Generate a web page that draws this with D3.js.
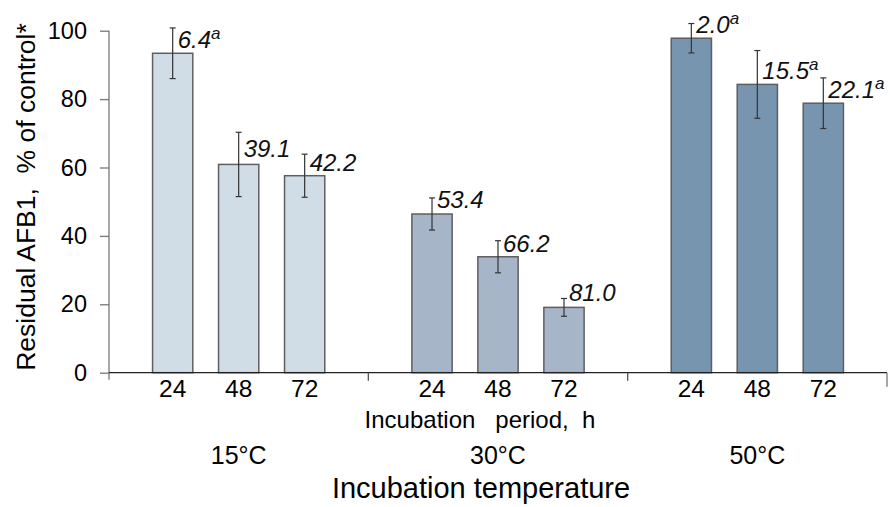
<!DOCTYPE html>
<html>
<head>
<meta charset="utf-8">
<script src="https://cdn.jsdelivr.net/npm/d3@7"></script>
<style>
  body { margin: 0; background: #fff; }
  svg { display: block; font-family: Arial, "Liberation Sans", sans-serif; }
  text { white-space: pre; }
</style>
</head>
<body>
<div id="plot"></div>
<script>
// ---------------- data ----------------
const temps = ["15°C", "30°C", "50°C"];
const hours = ["24", "48", "72"];

// residual AFB1 (% of control) per temperature, 24/48/72 h
const residual15 = [93.4, 60.9, 57.6];
const residual30 = [46.4, 33.9, 19.1];
const residual50 = [97.8, 84.3, 78.8];

// error bar half-lengths
const err15 = [7.4, 9.4, 6.3];
const err30 = [4.7, 4.7, 2.6];
const err50 = [4.3, 9.9, 7.4];

// degradation labels above bars
const labels15 = ["6.4", "39.1", "42.2"];
const labels30 = ["53.4", "66.2", "81.0"];
const labels50 = ["2.0", "15.5", "22.1"];
const sup15 = ["a", "", ""];
const sup30 = ["", "", ""];
const sup50 = ["a", "a", "a"];
// value (in % units) where each label baseline sits
const labelAt15 = [94.8, 63.2, 59.1];
const labelAt30 = [48.1, 35.4, 21.1];
const labelAt50 = [99.4, 85.9, 80.2];

const yTicks = [0, 20, 40, 60, 80, 100];

const residuals = [residual15, residual30, residual50];
const errs = [err15, err30, err50];
const labels = [labels15, labels30, labels50];
const sups = [sup15, sup30, sup50];
const labelAt = [labelAt15, labelAt30, labelAt50];
const fills = ["#d0dce6", "#a7b5c9", "#7895b0"];

const rows = [];
temps.forEach((t, i) => {
  hours.forEach((h, j) => {
    rows.push({temp: t, hour: h, value: residuals[i][j], err: errs[i][j],
               label: labels[i][j], sup: sups[i][j], labelAt: labelAt[i][j], fill: fills[i]});
  });
});

// ---------------- plot ----------------
const w = 890, h = 507;
const svg = d3.select("#plot").append("svg")
  .attr("width", w).attr("height", h);

const x0 = d3.scaleBand().domain(temps).range([109, 887]);
const x1 = d3.scaleBand().domain(hours).range([0, x0.bandwidth()])
  .paddingInner(0.39).paddingOuter(0.66);
const y = d3.scaleLinear().domain([0, 100]).range([372.7, 30.7]);

// y axis
const yAxis = d3.axisLeft(y).tickValues(yTicks).tickSize(9).tickPadding(13).tickSizeOuter(0);
const gy = svg.append("g").attr("transform", "translate(109,0)").call(yAxis);
gy.select(".domain").remove();
gy.append("line").attr("x1", 0).attr("x2", 0).attr("y1", y(100)).attr("y2", y(0) + 7)
  .attr("stroke", "#777").attr("stroke-width", 1.3);
gy.selectAll(".tick line").attr("stroke", "#777").attr("stroke-width", 1.3);
gy.selectAll(".tick text").attr("font-size", 23.5).attr("fill", "#000");

// bars
svg.append("g").selectAll("rect")
  .data(rows).enter().append("rect")
  .attr("x", d => x0(d.temp) + x1(d.hour))
  .attr("y", d => y(d.value))
  .attr("width", x1.bandwidth())
  .attr("height", d => y(0) - y(d.value))
  .attr("fill", d => d.fill)
  .attr("stroke", "#5f5f5f")
  .attr("stroke-width", 1.5);

// x baseline + group separators
svg.append("line").attr("x1", 109).attr("x2", 887).attr("y1", y(0)).attr("y2", y(0))
  .attr("stroke", "#222").attr("stroke-width", 1.3);
svg.append("g").selectAll("line")
  .data(temps.slice(1)).enter().append("line")
  .attr("x1", d => x0(d)).attr("x2", d => x0(d))
  .attr("y1", y(0)).attr("y2", y(0) + 8)
  .attr("stroke", "#555").attr("stroke-width", 1.3);
svg.append("line").attr("x1", 887).attr("x2", 887).attr("y1", y(0)).attr("y2", y(0) + 14)
  .attr("stroke", "#777").attr("stroke-width", 1.3);

// error bars
const cx = d => x0(d.temp) + x1(d.hour) + x1.bandwidth() / 2;
const eb = svg.append("g").attr("stroke", "#333").attr("stroke-width", 1.2);
rows.forEach(d => {
  const c = cx(d);
  eb.append("line").attr("x1", c).attr("x2", c).attr("y1", y(d.value + d.err)).attr("y2", y(d.value - d.err));
  eb.append("line").attr("x1", c - 3).attr("x2", c + 3).attr("y1", y(d.value + d.err)).attr("y2", y(d.value + d.err));
  eb.append("line").attr("x1", c - 3).attr("x2", c + 3).attr("y1", y(d.value - d.err)).attr("y2", y(d.value - d.err));
});

// labels
const lab = svg.append("g").selectAll("text")
  .data(rows).enter().append("text")
  .attr("x", d => cx(d) + 5)
  .attr("y", d => y(d.labelAt))
  .attr("font-size", 24)
  .attr("font-style", "italic")
  .attr("fill", "#111")
  .text(d => d.label);
lab.filter(d => d.sup).append("tspan")
  .attr("dy", -9)
  .attr("font-size", 17)
  .text(d => d.sup);

// hour tick labels
svg.append("g").selectAll("text")
  .data(rows).enter().append("text")
  .attr("x", d => cx(d))
  .attr("y", 397)
  .attr("text-anchor", "middle")
  .attr("font-size", 24.5)
  .text(d => d.hour);

svg.append("text")
  .attr("x", 480).attr("y", 428)
  .attr("text-anchor", "middle")
  .attr("font-size", 24)
  .text("Incubation   period,  h");

// temperature labels
svg.append("g").selectAll("text")
  .data(temps).enter().append("text")
  .attr("x", d => x0(d) + x0.bandwidth() / 2)
  .attr("y", 464)
  .attr("text-anchor", "middle")
  .attr("font-size", 25)
  .text(d => d);

svg.append("text")
  .attr("x", 481).attr("y", 498)
  .attr("text-anchor", "middle")
  .attr("font-size", 29)
  .text("Incubation temperature");

svg.append("text")
  .attr("transform", "translate(35,197) rotate(-90)")
  .attr("text-anchor", "middle")
  .attr("font-size", 26.5)
  .text("Residual AFB1,  % of control*");
</script>
</body>
</html>
